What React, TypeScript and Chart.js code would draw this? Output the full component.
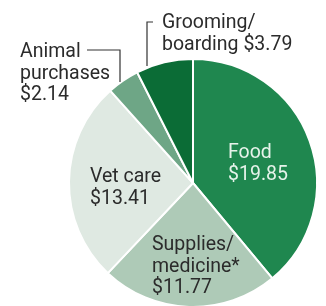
import React, { useEffect, useRef } from "react";
import { Chart, registerables } from "chart.js";

Chart.register(...registerables);

const categories = ["Food", "Supplies/medicine*", "Vet care", "Animal purchases", "Grooming/boarding"];
const values = [19.85, 11.77, 13.41, 2.14, 3.79];
const labelLines = [
  ["Food", "$19.85"],
  ["Supplies/", "medicine*", "$11.77"],
  ["Vet care", "$13.41"],
  ["Animal", "purchases", "$2.14"],
  ["Grooming/", "boarding $3.79"],
];
const colors = ["#1f874f", "#aecab7", "#dfe9e2", "#6ea686", "#0b6c36"];
const textColors = ["#e6f3ea", "#2b2b2b", "#2b2b2b", "#2b2b2b", "#2b2b2b"];

// label anchor offsets relative to pie centre (first baseline), left aligned
const labelLayout = [
  { dx: 35, dy: -25 },
  { dx: -41, dy: 67 },
  { dx: -103, dy: -1 },
  { dx: -173, dy: -126 },
  { dx: -31, dy: -155 },
];
const LINE_H = 21.5;
const FONT = "19.5px 'Roboto', 'Liberation Sans', sans-serif";

const labelPlugin = {
  id: "pieLabels",
  afterDraw(chart: any) {
    const meta = chart.getDatasetMeta(0);
    const arc0 = meta.data[0];
    const cx = arc0.x;
    const cy = arc0.y;
    const ctx = chart.ctx;
    ctx.save();
    ctx.font = FONT;
    ctx.textAlign = "left";
    ctx.textBaseline = "alphabetic";
    labelLines.forEach((lines, i) => {
      ctx.fillStyle = textColors[i];
      const l = labelLayout[i];
      lines.forEach((t, j) => {
        ctx.fillText(t, cx + l.dx, cy + l.dy + j * LINE_H);
      });
    });
    // leader lines
    ctx.strokeStyle = "#333";
    ctx.lineWidth = 1.2;
    ctx.beginPath();
    ctx.moveTo(cx - 106, cy - 133);
    ctx.lineTo(cx - 73, cy - 133);
    ctx.lineTo(cx - 73, cy - 101);
    ctx.stroke();
    ctx.beginPath();
    ctx.moveTo(cx - 40, cy - 161);
    ctx.lineTo(cx - 46, cy - 161);
    ctx.lineTo(cx - 46, cy - 117);
    ctx.stroke();
    ctx.restore();
  },
};

export default function App() {
  const ref = useRef<HTMLCanvasElement>(null);
  useEffect(() => {
    if (!ref.current) return;
    const chart = new Chart(ref.current, {
      type: "pie",
      data: {
        labels: categories,
        datasets: [
          {
            data: values,
            backgroundColor: colors,
            borderColor: "#ffffff",
            borderWidth: 2,
          },
        ],
      },
      options: {
        animation: false,
        responsive: false,
        layout: { padding: { left: 68, right: 8, top: 58, bottom: 4 } },
        plugins: { legend: { display: false }, tooltip: { enabled: false } },
      },
      plugins: [labelPlugin],
    });
    return () => chart.destroy();
  }, []);
  return (
    <div style={{ position: "fixed", left: 0, top: 0, width: 326, height: 306, overflow: "hidden", background: "#fff" }}>
      <canvas ref={ref} width={326} height={312} style={{ display: "block" }} />
    </div>
  );
}
